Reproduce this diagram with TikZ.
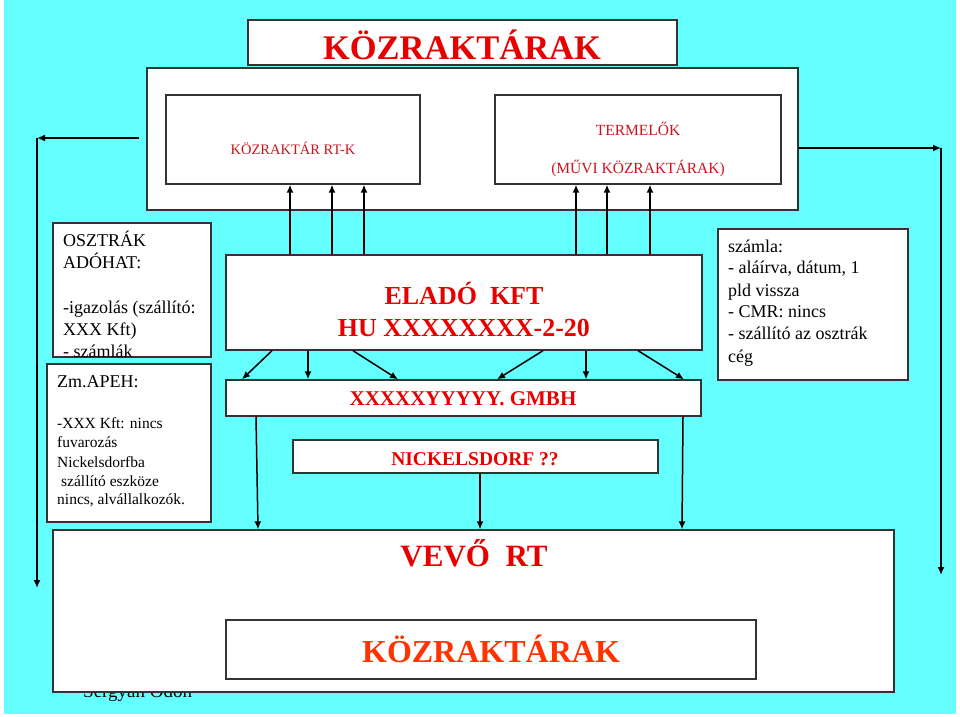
\documentclass[tikz,border=0pt]{standalone}
\usepackage{fontspec}
\setmainfont{Liberation Serif}
\usetikzlibrary{arrows.meta}
\definecolor{hatter}{RGB}{102,255,255}
\definecolor{cimpiros}{RGB}{232,0,0}
\definecolor{sotetpiros}{RGB}{204,20,30}
\definecolor{narancspiros}{RGB}{255,51,0}
\tikzset{
  doboz/.style={draw=black!80, fill=white, line width=1.3pt, inner sep=0pt},
  nyil/.style={-{Latex[length=8pt,width=7pt]}, line width=1.5pt},
  cim/.style={anchor=base, inner sep=0pt, text=cimpiros},
  sor/.style={anchor=base west, inner sep=0pt},
}

\begin{document}
\begin{tikzpicture}[x=1pt, y=-1pt]
\useasboundingbox (0,0) rectangle (960,716);
\fill[white] (0,0) rectangle (960,716);
\fill[hatter] (4,0) rectangle (956,714);

% Fejléc
\node[doboz, minimum width=429pt, minimum height=45pt] (cimdoboz) at (462.5,42.5) {};
\node[cim, font=\fontsize{34.5}{40}\selectfont\bfseries] (cimszoveg) at (462,59) {KÖZRAKTÁRAK};

% Közraktárak
\node[doboz, minimum width=651pt, minimum height=142pt] (kozr) at (472.5,139) {};
\node[doboz, minimum width=254pt, minimum height=89pt] (rtk) at (293,139.5) {};
\node[cim, text=sotetpiros, font=\fontsize{14.5}{17}\selectfont] (rtkszoveg) at (293,154) {KÖZRAKTÁR RT-K};
\node[doboz, minimum width=286pt, minimum height=89pt] (term) at (638,139.5) {};
\node[cim, text=sotetpiros, font=\fontsize{15.5}{18}\selectfont] (termszoveg1) at (638,135) {TERMELŐK};
\node[cim, text=sotetpiros, font=\fontsize{15.5}{18}\selectfont] (termszoveg2) at (638,173) {(MŰVI KÖZRAKTÁRAK)};

% Osztrák adóhatóság (bal felső)
\node[doboz, minimum width=158pt, minimum height=134pt] (oszt) at (132,290) {};
\foreach \y/\sor in {246/OSZTRÁK, 268/ADÓHAT:, 313/-igazolás (szállító:, 335/XXX Kft), 357/- számlák}{
  \node[sor, font=\fontsize{18}{22}\selectfont] (oszt-\y) at (63,\y) {\sor};
}

% Zm.APEH (bal alsó)
\node[doboz, minimum width=164pt, minimum height=158pt] (apeh) at (129,443) {};
\node[sor, font=\fontsize{18}{22}\selectfont] (apehcim) at (57,387) {Zm.APEH:};
\foreach \x/\y/\sor in {57/428/-XXX Kft: nincs, 57/447/fuvarozás, 57/467/Nickelsdorfba, 61/486/szállító eszköze, 57/504/{nincs, alvállalkozók.}}{
  \node[sor, font=\fontsize{15.5}{19}\selectfont] (apeh-\y) at (\x,\y) {\sor};
}

% Számla (jobb)
\node[doboz, minimum width=190pt, minimum height=151pt] (szamla) at (813,304.5) {};
\foreach \y/\sor in {252/számla:, 273/{- aláírva, dátum, 1}, 296/pld vissza, 317/- CMR: nincs, 339/- szállító az osztrák, 362/cég}{
  \node[sor, font=\fontsize{18}{22}\selectfont] (szamla-\y) at (728,\y) {\sor};
}

% Eladó és GMBH
\node[doboz, minimum width=476pt, minimum height=95pt] (elado) at (464,302.5) {};
\node[cim, font=\fontsize{26}{30}\selectfont\bfseries] (eladoszoveg1) at (464,304) {ELADÓ\ \ KFT};
\node[cim, font=\fontsize{26}{30}\selectfont\bfseries] (eladoszoveg2) at (464,336) {HU XXXXXXXX-2-20};
\node[doboz, minimum width=475pt, minimum height=36pt] (gmbh) at (463.5,398) {};
\node[cim, font=\fontsize{21}{25}\selectfont\bfseries] (gmbhszoveg) at (463,405) {XXXXXYYYYY. GMBH};
\node[doboz, minimum width=365pt, minimum height=33pt] (nickels) at (475.5,456.5) {};
\node[cim, font=\fontsize{19.5}{23}\selectfont\bfseries] (nickelsszoveg) at (475,465) {NICKELSDORF ??};

% Vevő
\node[anchor=base west, inner sep=0pt, font=\fontsize{19}{22}\selectfont] (szerzo) at (83,697) {Sergyán Ödön};
\node[doboz, minimum width=841pt, minimum height=162pt] (vevo) at (473.5,611) {};
\node[cim, font=\fontsize{31}{36}\selectfont\bfseries] (vevoszoveg) at (474,566) {VEVŐ\ \ RT};
\node[doboz, minimum width=530pt, minimum height=59pt] (kozr2) at (491,649.5) {};
\node[cim, text=narancspiros, font=\fontsize{32}{36}\selectfont\bfseries] (kozr2szoveg) at (491,662) {KÖZRAKTÁRAK};

% Nyilak felfelé
\foreach \x in {290,332,364}{
  \draw[nyil] (\x,0 |- elado.north) -- (\x,0 |- rtk.south);
}
\foreach \x in {576,607,650}{
  \draw[nyil] (\x,0 |- elado.north) -- (\x,0 |- term.south);
}

% Nyilak lefelé
\foreach \a/\b in {272/242, 308/308, 353/398, 543/497, 586/586, 638/684}{
  \draw[nyil] (\a,0 |- elado.south) -- (\b,0 |- gmbh.north);
}
\foreach \a/\b in {256/258, 683/682}{
  \draw[nyil] (\a,0 |- gmbh.south) -- (\b,0 |- vevo.north);
}
\draw[nyil] (480,0 |- nickels.south) -- (480,0 |- vevo.north);

% Oldalsó nyilak
\coordinate (balsarok) at (37,138);
\coordinate (balveg) at (37,588);
\coordinate (jobbsarok) at (941,148);
\coordinate (jobbveg) at (941,575);
\draw[nyil] ([xshift=-7pt]kozr.west |- balsarok) -- (balsarok);
\draw[nyil] (balsarok) -- (balveg);
\draw[nyil] (kozr.east |- jobbsarok) -- (jobbsarok);
\draw[nyil] (jobbsarok) -- (jobbveg);

\end{tikzpicture}
\end{document}
